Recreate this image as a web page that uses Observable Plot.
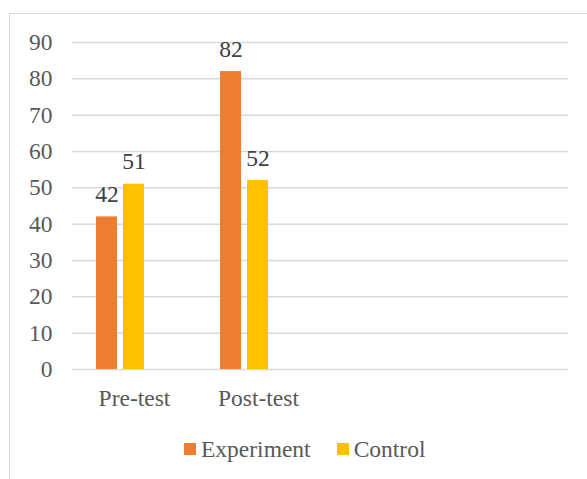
<!DOCTYPE html>
<html><head><meta charset="utf-8">
<script src="https://cdn.jsdelivr.net/npm/d3@7"></script>
<script src="https://cdn.jsdelivr.net/npm/@observablehq/plot@0.6"></script>
<style>
html,body{margin:0;padding:0;background:#fff;overflow:hidden;width:587px;height:479px}
#frame{position:absolute;left:9px;top:13px;width:700px;height:600px;border-left:1.5px solid #d9d9d9;border-top:1.5px solid #d9d9d9;}
#chart svg{display:block}
#chart svg, #chart svg text, #legend, #legend span{font-family:"Liberation Serif", serif !important}
#legend{height:58px;display:flex;align-items:center;padding-left:174px;font-size:23.5px;color:#595959}
.item{display:flex;align-items:center;margin-right:26px}
.sw{width:12px;height:12px;margin-right:5px}
</style></head>
<body><div id="frame"><div id="chart"></div><div id="legend"></div></div>
<script>
const categories = ["Pre-test","Post-test","slot3","slot4"];
const categoryLabels = ["Pre-test","Post-test","",""];
const seriesNames = ["Experiment","Control","Series3"];
const legendSeries = ["Experiment","Control"];
const experimentValues = [42, 82, null, null];
const controlValues = [51, 52, null, null];
const series3Values = [null, null, null, null];
const yTicks = [0,10,20,30,40,50,60,70,80,90];
const colors = ["#ED7D31","#FFC000","#A5A5A5"];

const data = [];
[experimentValues, controlValues, series3Values].forEach((vals, s) =>
  vals.forEach((v,i)=>data.push({category:categories[i], series:seriesNames[s], value:v})));
const labelData = data.filter(d => d.value != null);

const font = "Liberation Serif";
const chart = Plot.plot({
  width: 577, height: 406, marginLeft: 61, marginRight: 18, marginTop: 28, marginBottom: 51,
  style:{fontFamily:font, fontSize:"23.5px", color:"#595959", background:"transparent"},
  fx:{domain:categories, padding:0, label:null},
  x:{domain:seriesNames, paddingInner:0.214, paddingOuter:0.83, axis:null},
  y:{domain:[0,90]},
  color:{domain:seriesNames, range:colors},
  marks:[
    Plot.gridY(yTicks,{stroke:"#d9d9d9", strokeOpacity:1, strokeWidth:1.5}),
    Plot.axisY(yTicks,{tickSize:0, tickPadding:20, label:null, fontSize:23.5, fontFamily:font}),
    Plot.axisFx({anchor:"bottom", tickSize:0, tickPadding:20, label:null, fontSize:23.5, fontFamily:font, tickFormat:d=>categoryLabels[categories.indexOf(d)]}),
    Plot.barY(data,{fx:"category", x:"series", y:"value", fill:"series"}),
    Plot.text(labelData,{fx:"category", x:"series", y:"value", text:d=>String(d.value), lineAnchor:"bottom", dy:-15, fontSize:23.5, fontFamily:font, fill:"#404040"})
  ]
});
document.getElementById("chart").appendChild(chart);

const legend = document.getElementById("legend");
legendSeries.forEach(s=>{
  const it = document.createElement("div"); it.className="item";
  const sw = document.createElement("div"); sw.className="sw"; sw.style.background = colors[seriesNames.indexOf(s)];
  const tx = document.createElement("span"); tx.textContent = s;
  it.appendChild(sw); it.appendChild(tx); legend.appendChild(it);
});
</script>
</body></html>
